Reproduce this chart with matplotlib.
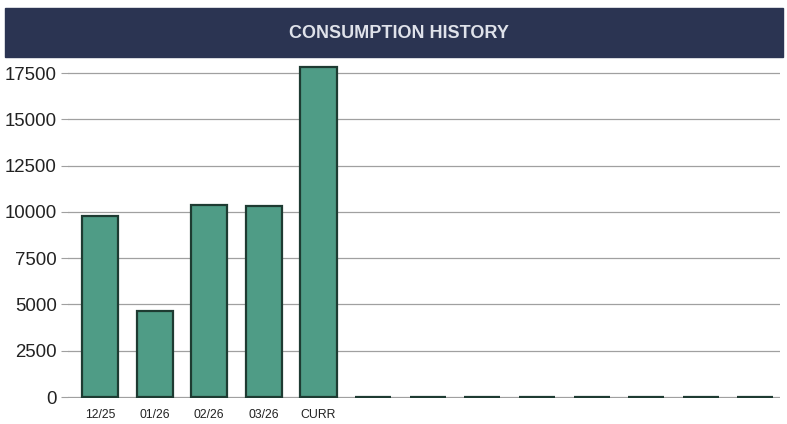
import matplotlib.pyplot as plt
from matplotlib.patches import Rectangle

plt.rcParams['font.family'] = ['Liberation Sans', 'DejaVu Sans']

labels = ['12/25', '01/26', '02/26', '03/26', 'CURR', '', '', '', '', '', '', '', '']
usage = [9780, 4670, 10370, 10330, 17840, 0, 0, 0, 0, 0, 0, 0, 0]
yticks = [0, 2500, 5000, 7500, 10000, 12500, 15000, 17500]

W, H = 787, 424
fig = plt.figure(figsize=(W / 100, H / 100), dpi=100)

# title banner
fig.patches.append(Rectangle((5 / W, 1 - 57 / H), 778 / W, 49 / H,
                             transform=fig.transFigure, color='#2b3452', zorder=0))
fig.text(399 / W, 1 - 33 / H, 'CONSUMPTION HISTORY', color='#dfe2ea',
         fontsize=13, fontweight='bold', ha='center', va='center')

ax = fig.add_axes([68 / W, 1 - 398 / H, 712 / W, 336 / H])
x = range(len(labels))
ax.bar(x, usage, width=0.66, color='#4f9c86', edgecolor='#1e3b32', linewidth=1.6, zorder=3)

ax.set_xlim(-0.586, 12.45)
ax.set_ylim(-54, 18100)
ax.set_yticks(yticks)
ax.set_yticklabels([str(v) for v in yticks], fontsize=13.4, color='#222222')
ax.set_xticks(list(x))
ax.set_xticklabels(labels, fontsize=8.8, color='#222222')
ax.grid(axis='y', color='#a0a0a0', linewidth=0.9, zorder=0)
ax.tick_params(axis='y', length=5, color='#a0a0a0', pad=3)
ax.tick_params(axis='x', length=0, pad=8)
for s in ax.spines.values():
    s.set_visible(False)

fig.savefig('out.png', dpi=100)
